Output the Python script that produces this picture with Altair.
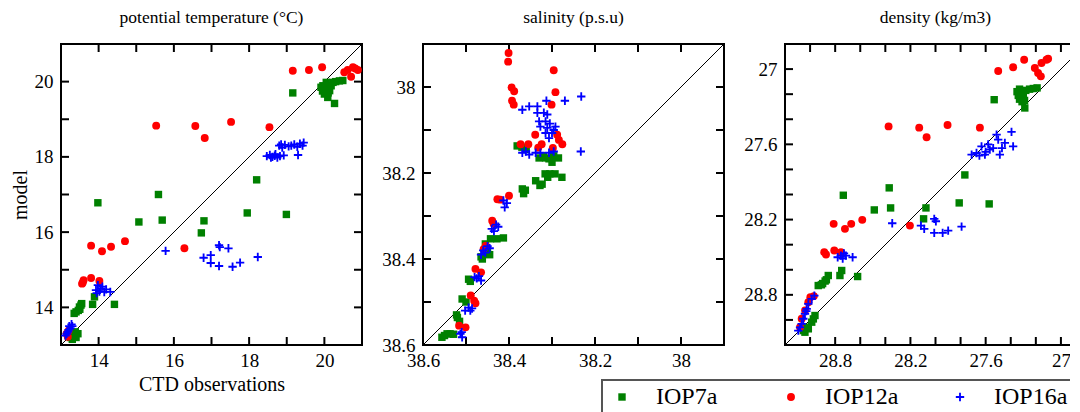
import altair as alt
import pandas as pd

SERIF = "Liberation Serif"
SERIES = ["IOP7a", "IOP12a", "IOP16a"]
COLORS = ["#008000", "#ff0000", "#0000ff"]
PLUS = "M-1,-0.22H-0.22V-1H0.22V-0.22H1V0.22H0.22V1H-0.22V0.22H-1Z"
SHAPES = ["square", "circle", PLUS]
SIZES = [55, 70, 90]

# ---- potential temperature: (CTD observation, model) ----
T7 = [(13.98,16.78),(15.59,17.0),(15.07,16.27),(15.69,16.32),(16.8,16.3),(16.73,15.98),(17.95,16.51),(18.2,17.39),(18.99,16.47),(19.16,19.7),(20.27,19.42),
      (19.91,19.85),(19.96,19.89),(20.0,19.67),(20.05,19.98),(20.09,19.58),(20.14,19.76),(20.18,19.89),(20.23,19.98),(20.4,20.02),(20.49,20.03),(20.02,19.8),(20.1,19.7),(19.95,19.75),(20.3,20.0),
      (13.84,14.08),(14.42,14.08),(13.89,14.28),(13.4,13.88),(13.49,14.01),(13.53,14.06),(13.35,13.84),(13.46,13.92),(13.55,14.1),(13.5,13.95),
      (13.25,13.2),(13.3,13.25),(13.35,13.3),(13.4,13.2),(13.45,13.3),(13.3,13.15),(13.38,13.35)]
T12 = [(15.53,18.83),(16.57,18.82),(16.82,18.5),(17.52,18.93),(18.54,18.79),(19.16,20.29),(19.59,20.31),(19.94,20.38),(20.53,20.25),(20.71,20.13),(20.76,20.38),(20.89,20.31),(20.62,20.31),(20.82,20.35),
       (13.8,15.64),(14.09,15.49),(14.33,15.61),(14.7,15.76),(16.28,15.57),(13.58,14.66),(13.6,14.72),(13.56,14.63),(13.8,14.78),(14.02,14.7),
       (13.15,13.3),(13.2,13.38),(13.18,13.22)]
T16 = [(15.78,15.5),(16.79,15.32),(16.98,15.39),(16.98,15.18),(17.2,15.65),(17.22,15.6),(17.45,15.57),(17.2,15.1),(17.56,15.08),(17.76,15.19),(18.23,15.34),
       (18.47,18.02),(18.55,18.05),(18.62,18.0),(18.68,18.03),(18.75,17.98),(18.82,18.02),(18.92,18.04),(18.58,17.98),(18.7,18.07),
       (18.8,18.3),(18.85,18.33),(18.88,18.25),(18.95,18.32),(19.05,18.28),(19.12,18.3),(19.2,18.33),(19.28,18.27),(19.35,18.35),(19.42,18.3),(19.45,18.38),(19.3,18.05),
       (13.93,14.46),(13.98,14.59),(14.02,14.42),(14.06,14.5),(14.1,14.55),(14.15,14.41),(14.2,14.48),(14.31,14.41),(13.95,14.38),
       (13.15,13.3),(13.2,13.4),(13.22,13.5),(13.25,13.45),(13.18,13.35),(13.28,13.55),(13.12,13.25),(13.3,13.5)]

# ---- salinity ----
S7 = [(38.381,38.137),(38.37,38.14),(38.36,38.145),(38.33,38.165),(38.315,38.165),(38.307,38.167),(38.296,38.16),(38.285,38.165),(38.3,38.175),(38.32,38.16),
      (38.369,38.237),(38.366,38.248),(38.362,38.24),
      (38.338,38.218),(38.328,38.229),(38.323,38.226),(38.316,38.202),(38.305,38.202),(38.293,38.202),(38.277,38.21),(38.31,38.21),
      (38.443,38.353),(38.428,38.353),(38.413,38.351),
      (38.455,38.365),(38.45,38.38),(38.462,38.4),(38.445,38.39),(38.465,38.395),
      (38.494,38.447),(38.49,38.452),(38.509,38.493),(38.5,38.5),
      (38.52,38.536),(38.515,38.545),(38.522,38.53),
      (38.544,38.574),(38.556,38.582),(38.537,38.574),(38.529,38.575),(38.55,38.578)]
S12 = [(38.401,37.921),(38.402,37.941),(38.296,37.961),(38.394,38.001),(38.388,38.01),(38.292,38.012),(38.393,38.032),(38.389,38.041),(38.301,38.041),
       (38.339,38.111),(38.288,38.111),(38.284,38.123),(38.276,38.133),(38.298,38.142),(38.373,38.133),(38.355,38.133),(38.332,38.141),(38.324,38.133),
       (38.4,38.253),(38.427,38.261),(38.42,38.262),(38.439,38.311),(38.436,38.318),(38.454,38.369),(38.459,38.377),(38.478,38.423),(38.465,38.431),
       (38.489,38.485),(38.481,38.497),(38.478,38.503),(38.516,38.555),(38.501,38.559)]
S16 = [(38.232,38.022),(38.27,38.032),(38.313,38.032),(38.369,38.053),(38.353,38.045),(38.334,38.045),(38.334,38.06),(38.319,38.06),(38.311,38.064),
       (38.33,38.08),(38.315,38.08),(38.327,38.092),(38.311,38.095),(38.292,38.092),(38.315,38.107),(38.3,38.107),(38.307,38.119),(38.296,38.1),(38.305,38.085),
       (38.233,38.15),
       (38.369,38.153),(38.361,38.15),(38.353,38.157),(38.338,38.153),(38.327,38.153),(38.307,38.153),(38.296,38.15),
       (38.413,38.264),(38.405,38.27),(38.41,38.28),
       (38.43,38.32),(38.44,38.33),(38.425,38.325),(38.435,38.335),
       (38.45,38.37),(38.46,38.38),(38.465,38.39),(38.445,38.375),(38.455,38.385),
       (38.47,38.44),(38.475,38.445),(38.465,38.45),(38.48,38.442),
       (38.494,38.513),(38.502,38.52),(38.486,38.515),(38.49,38.52),
       (38.513,38.574),(38.509,38.582),(38.51,38.57)]

# ---- density ----
D7 = [(28.735,28.006),(28.369,27.947),(28.358,28.107),(28.488,28.123),(28.076,28.107),(28.095,28.194),(27.811,28.067),(27.766,27.844),(27.572,28.075),(27.532,27.244),(27.288,27.31),
      (27.35,27.18),(27.34,27.21),(27.33,27.24),(27.31,27.26),(27.3,27.2),(27.28,27.17),(27.25,27.16),(27.22,27.155),(27.19,27.15),(27.33,27.16),(27.31,27.22),(27.29,27.25),
      (28.621,28.654),(28.762,28.646),(28.748,28.606),(28.935,28.726),(28.9,28.71),(28.88,28.69),(28.855,28.646),(28.87,28.68),(28.91,28.72),
      (29.041,29.098),(29.014,29.071),(28.987,29.018),(28.961,28.965),(28.974,28.992),(29.027,29.058),(29.054,29.085)]
D12 = [(28.374,27.457),(28.13,27.467),(28.071,27.544),(27.904,27.446),(27.646,27.467),(27.5,27.015),(27.381,26.986),(27.293,26.925),(27.208,26.991),(27.182,27.031),(27.16,27.058),(27.155,26.951),(27.115,26.925),(27.102,26.917),
       (28.812,28.234),(28.722,28.274),(28.672,28.234),(28.584,28.202),(28.204,28.248),(28.887,28.46),(28.873,28.479),(28.807,28.447),(28.754,28.46),
       (28.998,28.819),(29.014,28.859),(29.04,28.925),(29.067,28.991),(29.08,29.058),(28.97,28.81)]
D16 = [(28.345,28.229),(28.116,28.248),(28.09,28.274),(28.01,28.194),(27.997,28.213),(28.01,28.306),(27.943,28.306),(27.899,28.288),(27.792,28.256),
       (27.712,27.682),(27.673,27.669),(27.633,27.616),(27.606,27.682),(27.567,27.642),(27.54,27.63),(27.513,27.523),(27.5,27.562),(27.487,27.682),(27.447,27.589),(27.394,27.501),(27.381,27.616),(27.6,27.66),(27.65,27.69),(27.58,27.6),(27.47,27.63),
       (28.754,28.487),(28.78,28.5),(28.714,28.487),(28.661,28.5),(28.73,28.47),(28.74,28.51),
       (29.094,29.085),(29.067,29.031),(29.054,28.991),(29.041,28.951),(29.027,28.912),(29.014,28.872),(28.987,28.832),(28.966,28.806),(29.08,29.06),(29.03,28.93)]

# axis domains, labelled values and tick values
T_DOM, T_LAB, T_TICK = [13, 21], [14, 16, 18, 20], [14, 15, 16, 17, 18, 19, 20]
S_DOM, S_LAB, S_TICK = [37.9, 38.6], [38.6, 38.4, 38.2, 38.0], [38.0, 38.1, 38.2, 38.3, 38.4, 38.5]
D_DOM, D_LAB, D_TICK = [26.8, 29.2], [28.8, 28.2, 27.6, 27.0], [27.0, 27.2, 27.4, 27.6, 27.8, 28.0, 28.2, 28.4, 28.6, 28.8, 29.0]

W = H = 301
TL = 8

LEGEND = alt.Legend(title=None, orient="none", legendX=541, legendY=336, direction="horizontal",
                    columns=3, labelFont=SERIF, labelFontSize=24, labelColor="black",
                    labelOffset=22, symbolSize=60, strokeColor="#555555", padding=5,
                    columnPadding=46, gridAlign="all", symbolOffset=3, labelLimit=300)


def panel(title, d7, d12, d16, dom, lab, ticks, reverse, xtitle="", ytitle=""):
    rows = []
    for s, d in zip(SERIES, [d7, d12, d16]):
        for o, m in d:
            rows.append({"series": s, "obs": o, "mod": m})
    df = pd.DataFrame(rows)
    xs = alt.Scale(domain=dom, reverse=reverse, nice=False, zero=False)
    ys = alt.Scale(domain=dom, reverse=reverse, nice=False, zero=False)
    xax = alt.Axis(values=lab, format="~g", title=xtitle, labelPadding=6, titlePadding=4,
                   ticks=False, domain=False, grid=False, labelFlush=False, labelOverlap=False)
    yax = alt.Axis(values=lab, format="~g", title=ytitle, labelPadding=8, titlePadding=4,
                   ticks=False, domain=False, grid=False, labelFlush=False, labelOverlap=False)

    diag = alt.Chart(pd.DataFrame({"obs": dom, "mod": dom})).mark_line(
        color="black", strokeWidth=1).encode(
        x=alt.X("obs:Q", scale=xs, axis=xax), y=alt.Y("mod:Q", scale=ys, axis=yax))

    pts = alt.Chart(df).mark_point(filled=True, opacity=1).encode(
        x=alt.X("obs:Q", scale=xs, axis=xax),
        y=alt.Y("mod:Q", scale=ys, axis=yax),
        color=alt.Color("series:N", scale=alt.Scale(domain=SERIES, range=COLORS), legend=LEGEND),
        shape=alt.Shape("series:N", scale=alt.Scale(domain=SERIES, range=SHAPES), legend=LEGEND),
        size=alt.Size("series:N", scale=alt.Scale(domain=SERIES, range=SIZES), legend=None),
        order=alt.Order("k:Q"),
    ).transform_calculate(k="indexof(['IOP7a','IOP12a','IOP16a'], datum.series)")

    tdf = pd.DataFrame({"obs": ticks, "mod": ticks})
    base = alt.Chart(tdf).mark_rule(color="black", strokeWidth=2)
    tx = alt.X("obs:Q", scale=xs, axis=xax)
    ty = alt.Y("mod:Q", scale=ys, axis=yax)
    tick_layers = [
        base.encode(x=tx, y=alt.value(0), y2=alt.value(TL)),
        base.encode(x=tx, y=alt.value(H), y2=alt.value(H - TL)),
        base.encode(y=ty, x=alt.value(0), x2=alt.value(TL)),
        base.encode(y=ty, x=alt.value(W), x2=alt.value(W - TL)),
    ]
    return alt.layer(diag, *tick_layers, pts).properties(
        width=W, height=H, title=alt.TitleParams(title))


p1 = panel("potential temperature (°C)", T7, T12, T16, T_DOM, T_LAB, T_TICK, False,
           xtitle="CTD observations", ytitle="model")
p2 = panel("salinity (p.s.u)", S7, S12, S16, S_DOM, S_LAB, S_TICK, True)
p3 = panel("density (kg/m3)", D7, D12, D16, D_DOM, D_LAB, D_TICK, True)

chart = alt.hconcat(p1, p2, p3, spacing=61, bounds="flush").properties(
    autosize=alt.AutoSizeParams(type="none"),
    padding={"left": 53, "top": 36, "right": 1009, "bottom": 360}
).configure(font=SERIF).configure_view(
    stroke="black", strokeWidth=2
).configure_axis(
    labelFont=SERIF, labelFontSize=19, labelColor="black",
    titleFont=SERIF, titleFontSize=20, titleFontWeight="normal", titleColor="black"
).configure_title(
    font=SERIF, fontSize=17.5, fontWeight="normal", color="black", anchor="middle", offset=15.5
).configure_legend(strokeWidth=2)

chart.save("out.html", embed_options={"renderer": "svg", "actions": False})
